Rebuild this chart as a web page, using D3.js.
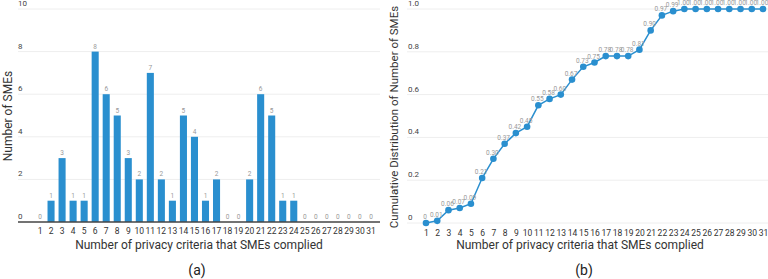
<!DOCTYPE html>
<html>
<head>
<meta charset="utf-8">
<script src="https://cdn.jsdelivr.net/npm/d3@7"></script>
<style>
  body { margin: 0; background: #fff; }
  svg { display: block; font-family: Roboto, "Noto Sans", sans-serif; }
</style>
</head>
<body>
<svg id="chart" width="768" height="279"></svg>
<script>
// criteria counts 1..31
var criteria = d3.range(1, 32).map(String)
var smeCounts = [0, 1, 3, 1, 1, 8, 6, 5, 3, 2, 7, 2, 1, 5, 4, 1, 2, 0, 0, 2, 6, 5, 1, 1, 0, 0, 0, 0, 0, 0, 0]
var cumulative = [0, 0.01, 0.06, 0.07, 0.09, 0.21, 0.30, 0.37, 0.42, 0.45, 0.55, 0.58, 0.60, 0.67, 0.73, 0.75,
    0.78, 0.78, 0.78, 0.81, 0.90, 0.97, 0.99, 1.00, 1.00, 1.00, 1.00, 1.00, 1.00, 1.00, 1.00]
var countTicks = [0, 2, 4, 6, 8, 10]
var cumTicks = [0, 0.2, 0.4, 0.6, 0.8, 1.0]

var svg = d3.select("#chart")
var blue = "#2a8fcf"

// ---------- (a) bar chart ----------
var xa = d3.scaleBand().domain(criteria).range([34.5, 376.5]).paddingInner(0.36).paddingOuter(0.18)
var ya = d3.scaleLinear().domain([0, 10]).range([222, 9])

var ga = svg.append("g")

ga.selectAll(".grid").data(countTicks.slice(1)).enter().append("line")
    .attr("x1", 18).attr("x2", 380)
    .attr("y1", d => ya(d)).attr("y2", d => ya(d))
    .attr("stroke", "#eeeeee")

ga.selectAll(".ylab").data(countTicks).enter().append("text")
    .attr("x", 18).attr("y", d => ya(d) - 3)
    .attr("font-size", 8).attr("fill", "#444")
    .text(d => d)

ga.selectAll("rect").data(smeCounts).enter().append("rect")
    .attr("x", (d, i) => xa(criteria[i]))
    .attr("y", d => ya(d))
    .attr("width", xa.bandwidth())
    .attr("height", d => ya(0) - ya(d))
    .attr("fill", blue)

ga.selectAll(".vlab").data(smeCounts).enter().append("text")
    .attr("x", (d, i) => xa(criteria[i]) + xa.bandwidth() / 2)
    .attr("y", d => ya(d) - 3)
    .attr("text-anchor", "middle")
    .attr("font-size", 6.5).attr("fill", "#999")
    .text(d => d)

ga.append("line")
    .attr("x1", 18).attr("x2", 380)
    .attr("y1", ya(0)).attr("y2", ya(0))
    .attr("stroke", "#444").attr("stroke-width", 1.3)

var xAxisA = ga.append("g")
    .attr("transform", "translate(0," + ya(0) + ")")
    .call(d3.axisBottom(xa).tickSize(0).tickPadding(6))
xAxisA.select(".domain").remove()
xAxisA.selectAll("text").attr("font-size", 8.5).attr("fill", "#333").attr("font-family", "Roboto, sans-serif")

ga.append("text")
    .attr("transform", "translate(12,116) rotate(-90)")
    .attr("text-anchor", "middle")
    .attr("font-size", 12).attr("fill", "#333")
    .text("Number of SMEs")

ga.append("text")
    .attr("x", 199).attr("y", 249)
    .attr("text-anchor", "middle")
    .attr("font-size", 12).attr("fill", "#333")
    .text("Number of privacy criteria that SMEs complied")

ga.append("text")
    .attr("x", 197).attr("y", 275)
    .attr("text-anchor", "middle")
    .attr("font-size", 14).attr("fill", "#222")
    .text("(a)")

// ---------- (b) cumulative line ----------
var xb = d3.scalePoint().domain(criteria).range([426, 763])
var yb = d3.scaleLinear().domain([0, 1]).range([223, 9])

var gb = svg.append("g")

gb.selectAll(".grid").data(cumTicks).enter().append("line")
    .attr("x1", 407).attr("x2", 768)
    .attr("y1", d => yb(d)).attr("y2", d => yb(d))
    .attr("stroke", "#eeeeee")

gb.selectAll(".ylab").data(cumTicks).enter().append("text")
    .attr("x", 408).attr("y", d => yb(d) - 3)
    .attr("font-size", 8).attr("fill", "#444")
    .text(d => d === 0 ? "0" : d.toFixed(1))

var line = d3.line()
    .x((d, i) => xb(criteria[i]))
    .y(d => yb(d))

gb.append("path")
    .datum(cumulative)
    .attr("d", line)
    .attr("fill", "none")
    .attr("stroke", blue)
    .attr("stroke-width", 1.5)

gb.selectAll("circle").data(cumulative).enter().append("circle")
    .attr("cx", (d, i) => xb(criteria[i]))
    .attr("cy", d => yb(d))
    .attr("r", 3.3)
    .attr("fill", blue)

gb.selectAll(".vlab").data(cumulative).enter().append("text")
    .attr("x", (d, i) => xb(criteria[i]) - 1)
    .attr("y", d => yb(d) - 4)
    .attr("text-anchor", "middle")
    .attr("font-size", 6.5).attr("fill", "#999")
    .text(d => d === 0 ? "0" : d.toFixed(2))

var xAxisB = gb.append("g")
    .attr("transform", "translate(0," + yb(0) + ")")
    .call(d3.axisBottom(xb).tickSize(0).tickPadding(7))
xAxisB.select(".domain").remove()
xAxisB.selectAll("text").attr("font-size", 8.5).attr("fill", "#333").attr("font-family", "Roboto, sans-serif")

gb.append("text")
    .attr("transform", "translate(398,117) rotate(-90)")
    .attr("text-anchor", "middle")
    .attr("font-size", 11.5).attr("fill", "#333")
    .text("Cumulative Distribution of Number of SMEs")

gb.append("text")
    .attr("x", 580).attr("y", 249)
    .attr("text-anchor", "middle")
    .attr("font-size", 12).attr("fill", "#333")
    .text("Number of privacy criteria that SMEs complied")

gb.append("text")
    .attr("x", 584).attr("y", 275)
    .attr("text-anchor", "middle")
    .attr("font-size", 14).attr("fill", "#222")
    .text("(b)")
</script>
</body>
</html>
